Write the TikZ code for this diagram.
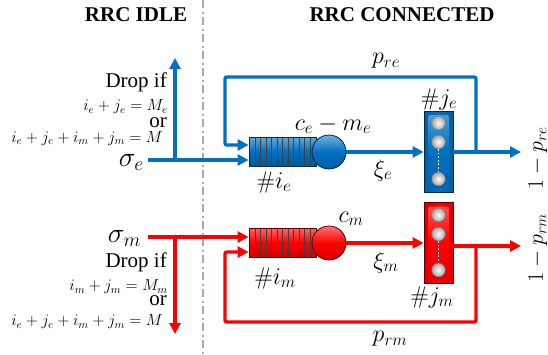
\RequirePackage{fix-cm}
\documentclass[tikz,border=0pt]{standalone}
\usepackage[no-math]{fontspec}
\setmainfont{Liberation Serif}
\usetikzlibrary{arrows.meta,shadings}
\definecolor{qblue}{RGB}{0,112,192}
\definecolor{qred}{RGB}{255,0,0}
\definecolor{sepgray}{RGB}{170,170,170}
\begin{document}
\begin{tikzpicture}[x=1pt,y=-1pt,
  flow/.style={line width=3.4pt,-{Triangle[length=11pt,width=11pt]}},
  head/.style={inner sep=0pt,font=\fontsize{21}{24}\selectfont\bfseries},
  txt/.style={inner sep=0pt,font=\fontsize{21}{24}\selectfont},
  smath/.style={inner sep=0pt,font=\fontsize{16}{18}\selectfont},
  lab/.style={inner sep=0pt,font=\fontsize{24}{28}\selectfont},
  rlab/.style={inner sep=0pt,font=\fontsize{22}{26}\selectfont,rotate=90},
  sig/.style={inner sep=0pt,font=\fontsize{28}{32}\selectfont},
  queue/.style={draw=#1!40!black,line width=0.8pt,minimum width=67pt,minimum height=29pt,
     top color=#1!60!white,bottom color=#1!80!black,middle color=#1},
  server/.style={circle,draw=#1!30!black,line width=0.8pt,minimum size=34pt,
     top color=#1!55!white,bottom color=#1!85!black,middle color=#1},
  sbox/.style={draw=#1!35!black,line width=0.9pt,minimum width=29pt,minimum height=81pt,
     left color=#1!85!black,right color=#1!85!black,middle color=#1},
  sinner/.style={draw=none,rounded corners=2pt,minimum width=21pt,minimum height=73pt,
     top color=#1!70!white,bottom color=#1!90!black,middle color=#1},
  wball/.style={circle,inner sep=0pt,minimum size=13.5pt,inner color=white,outer color=black!35,draw=black!50,line width=0.4pt},
]
\useasboundingbox (0,0) rectangle (548,354);
% separator
\draw[sepgray,line width=2.2pt,dash pattern=on 8pt off 3.5pt on 2pt off 3.5pt] (203,0) -- (203,354);
% headings
\node[head] (hidle) at (136,15) {RRC IDLE};
\node[head] (hconn) at (402,15) {RRC CONNECTED};

% ---------------- blue (e) ----------------
\node[queue=qblue] (qe) at (282.5,151.5) {};
\foreach \k in {0,...,10} \draw[black!75,line width=0.7pt] ({255+5.5*\k},137.5) -- ({255+5.5*\k},165.5);
\node[server=qblue] (se) at (329,152) {};
\node[sbox=qblue] (je) at (438.5,151.5) {};
\node[sinner=qblue] (jein) at (je.center) {};
\node[wball] (je1) at (438.5,123) {};
\node[wball] (je2) at (438.5,142) {};
\node[wball] (je3) at (438.5,179) {};
\draw[white,line width=1.8pt,dash pattern=on 1.8pt off 1.8pt] (je2.south) -- (je3.north);

\coordinate (sigEstart) at (148,160);
\coordinate (dropE) at (175,160);
\coordinate (dropEtip) at (175,58);
\coordinate (fbE) at (476,152);
\coordinate (fbEtop) at (476,77);
\coordinate (fbEleft) at (225,77);
\coordinate (fbEin) at (225,145);
\coordinate (outE) at (521,152);
\draw[flow,qblue] (sigEstart) -- (sigEstart -| qe.west);
\draw[flow,qblue] (dropE) -- (dropEtip);
\draw[flow,qblue,rounded corners=2pt] (fbE) -- (fbEtop) -- (fbEleft) -- (fbEin) -- (fbEin -| qe.west);
\draw[flow,qblue] (se.east) -- (je.west |- se.east);
\draw[flow,qblue] (je.east |- outE) -- (outE);

\node[sig,anchor=base east] (sige) at (144,166) {$\sigma_e$};
\node[txt,anchor=base east] (dropEtxt) at (167,87) {Drop if};
\node[smath,anchor=east] (condE1) at (168,107) {$i_e+j_e=M_e$};
\node[txt,anchor=east] (orE) at (167,122.5) {or};
\node[smath,anchor=east] (condE2) at (163,138.5) {$i_e+j_e+i_m+j_m=M$};
\node[lab] (pre) at (386,61) {$p_{re}$};
\node[lab] (jelab) at (439,99) {$\#j_e$};
\node[lab] (celab) at (333,125) {$c_e-m_e$};
\node[lab] (xie) at (383,170) {$\xi_e$};
\node[lab] (ielab) at (274,182) {$\#i_e$};
\node[rlab] (outelab) at (538,158) {$1-p_{re}$};

% ---------------- red (m) ----------------
\node[queue=qred] (qm) at (282.5,242.5) {};
\foreach \k in {0,...,10} \draw[black!75,line width=0.7pt] ({255+5.5*\k},228.5) -- ({255+5.5*\k},256.5);
\node[server=qred] (sm) at (329,243) {};
\node[sbox=qred] (jm) at (438.5,243) {};
\node[sinner=qred] (jmin) at (jm.center) {};
\node[wball] (jm1) at (438.5,215) {};
\node[wball] (jm2) at (438.5,234) {};
\node[wball] (jm3) at (438.5,270) {};
\draw[white,line width=1.8pt,dash pattern=on 1.8pt off 1.8pt] (jm2.south) -- (jm3.north);

\coordinate (sigMstart) at (148,237);
\coordinate (dropM) at (175,237);
\coordinate (dropMtip) at (175,334);
\coordinate (fbM) at (476,246);
\coordinate (fbMbot) at (476,322);
\coordinate (fbMleft) at (225,322);
\coordinate (fbMin) at (225,252);
\coordinate (outM) at (521,246);
\draw[flow,qred] (sigMstart) -- (sigMstart -| qm.west);
\draw[flow,qred] (dropM) -- (dropMtip);
\draw[flow,qred,rounded corners=2pt] (fbM) -- (fbMbot) -- (fbMleft) -- (fbMin) -- (fbMin -| qm.west);
\draw[flow,qred] (sm.east) -- (jm.west |- sm.east);
\draw[flow,qred] (jm.east |- outM) -- (outM);

\node[sig,anchor=base east] (sigm) at (141,242) {$\sigma_m$};
\node[txt,anchor=base east] (dropMtxt) at (167,267) {Drop if};
\node[smath,anchor=east] (condM1) at (168,287) {$i_m+j_m=M_m$};
\node[txt,anchor=east] (orM) at (167,301) {or};
\node[smath,anchor=east] (condM2) at (163,322) {$i_e+j_e+i_m+j_m=M$};
\node[lab] (cmlab) at (351,219) {$c_m$};
\node[lab] (xim) at (386,262) {$\xi_m$};
\node[lab] (imlab) at (275,278) {$\#i_m$};
\node[lab] (jmlab) at (432,297) {$\#j_m$};
\node[lab] (prm) at (390,339) {$p_{rm}$};
\node[rlab] (outmlab) at (538,248) {$1-p_{rm}$};
\end{tikzpicture}
\end{document}
